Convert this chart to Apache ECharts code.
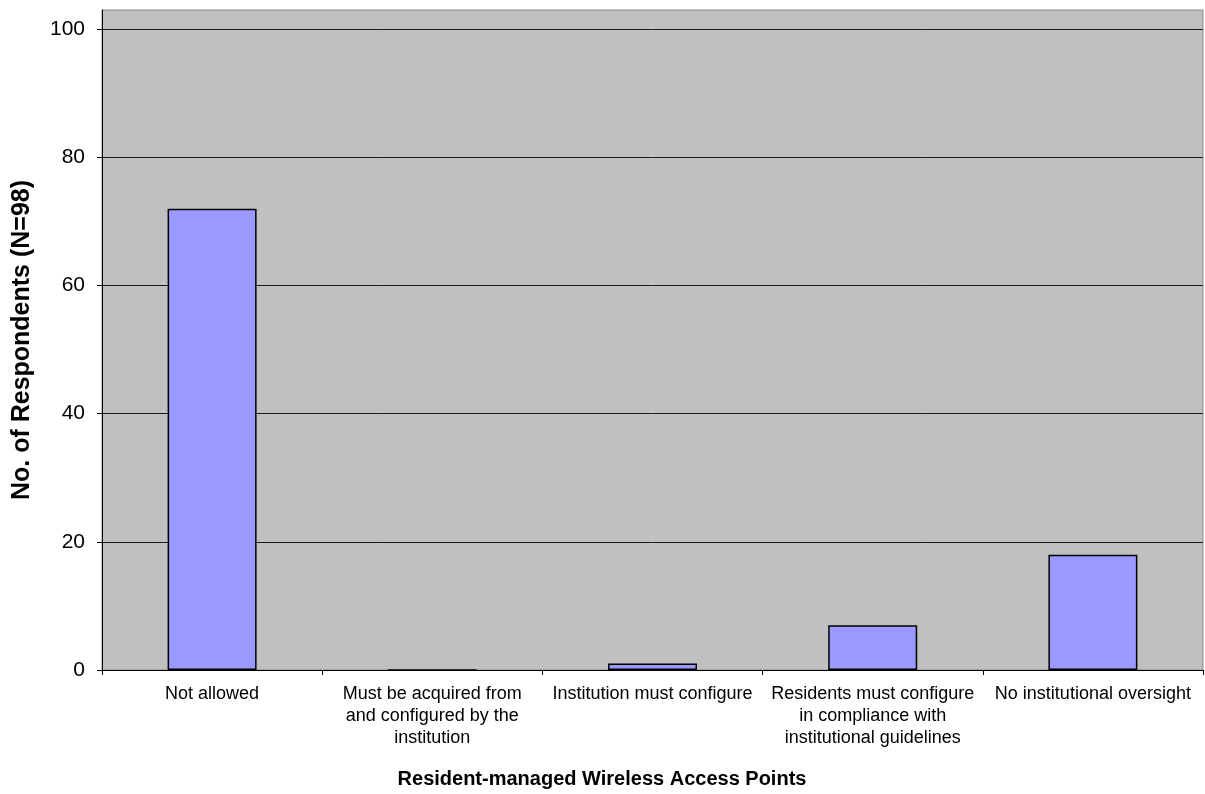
<!DOCTYPE html>
<html>
<head>
<meta charset="utf-8">
<script src="https://cdn.jsdelivr.net/npm/echarts@6/dist/echarts.min.js"></script>
<style>html,body{margin:0;padding:0;background:#fff}#c{width:1205px;height:794px}</style>
</head>
<body>
<div id="c"></div>
<script>
const categories = [
  "Not allowed",
  "Must be acquired from\nand configured by the\ninstitution",
  "Institution must configure",
  "Residents must configure\nin compliance with\ninstitutional guidelines",
  "No institutional oversight"
];
const values = [72, 0, 1, 7, 18];
const yTicks = [0, 20, 40, 60, 80, 100];
const xTitle = "Resident-managed Wireless Access Points";
const yTitle = "No. of Respondents (N=98)";

const chart = echarts.init(document.getElementById('c'), null, {renderer: 'canvas'});
chart.setOption({
  animation: false,
  backgroundColor: '#ffffff',
  textStyle: {fontFamily: 'Liberation Sans, Arial, sans-serif'},
  grid: {left: 102, right: 2, top: 10, bottom: 124, show: true,
         backgroundColor: '#C0C0C0', borderColor: '#8c8c8c', borderWidth: 1},
  xAxis: {
    type: 'category',
    data: categories,
    boundaryGap: true,
    axisLine: {lineStyle: {color: '#000', width: 1}},
    axisTick: {show: true, length: 5, lineStyle: {color: '#000'}},
    axisLabel: {color: '#000', fontSize: 18, lineHeight: 22, margin: 13, interval: 0, align: 'center'},
    name: xTitle,
    nameLocation: 'middle',
    nameGap: 99,
    nameTextStyle: {color: '#000', fontSize: 20, fontWeight: 'bold', padding: [0, 101, 0, 0]}
  },
  yAxis: {
    type: 'value',
    min: 0,
    max: 103,
    interval: 20,
    axisLine: {show: true, lineStyle: {color: '#000', width: 1}},
    axisTick: {show: true, length: 5, lineStyle: {color: '#000'}, customValues: yTicks},
    axisLabel: {color: '#000', fontSize: 21, margin: 17, customValues: yTicks},
    splitLine: {show: true, lineStyle: {color: '#1a1a1a', width: 1}},
    name: yTitle,
    nameLocation: 'middle',
    nameGap: 67,
    nameRotate: 90,
    nameTextStyle: {color: '#000', fontSize: 25, fontWeight: 'bold'}
  },
  series: [{
    type: 'bar',
    data: values,
    barWidth: 89,
    itemStyle: {color: '#9999FF', borderColor: '#000', borderWidth: 1.5}
  }]
});
</script>
</body>
</html>
